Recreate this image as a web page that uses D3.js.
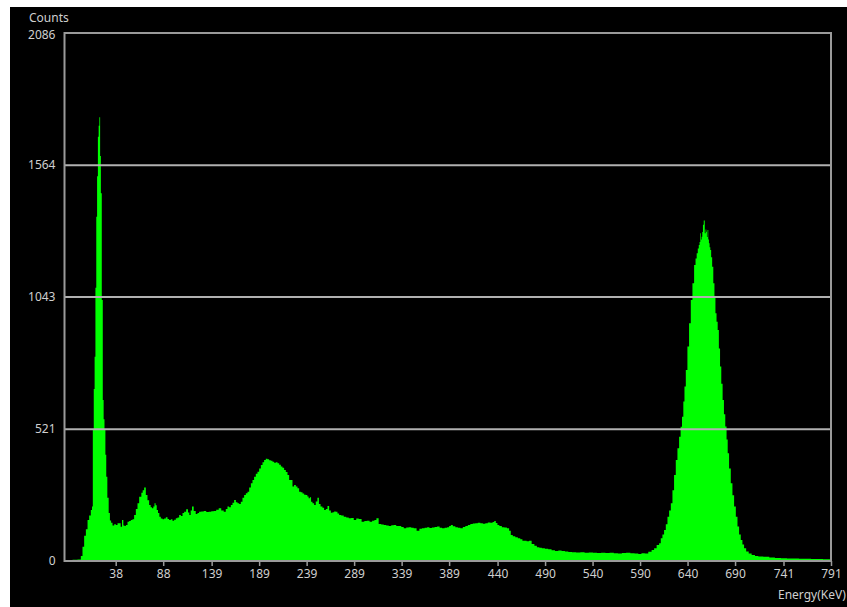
<!DOCTYPE html>
<html>
<head>
<meta charset="utf-8">
<script src="https://cdn.jsdelivr.net/npm/d3@7"></script>
<style>
  body { margin: 0; background: #fff; }
  svg text { font-family: "Noto Sans", sans-serif; font-size: 12px; fill: #cfcfcf; }
</style>
</head>
<body>
<div id="chart"></div>
<script>
// tick labels as printed on the instrument screen
const xLabels = [38, 88, 139, 189, 239, 289, 339, 389, 440, 490, 540, 590, 640, 690, 741, 791]
const yLabels = [0, 521, 1043, 1564, 2086]

// spectrum: energy (keV) / counts
const energy = [-15.4, -10.1, -4.8, 0.4, 2.2, 3.9, 5.7, 7.5, 9.2, 10.9, 12.7, 13.4, 14.4, 15.4, 16.2, 17.1, 18.0, 18.8, 19.7, 20.4,
  21.2, 22.0, 22.8, 23.9, 24.9, 25.7, 26.7, 27.6, 28.5, 29.9, 31.3, 32.5, 33.8, 35.5, 37.3, 39.1, 40.7, 42.5,
  43.9, 45.4, 46.7, 47.8, 49.6, 51.3, 53.0, 54.8, 56.5, 58.3, 60.1, 61.8, 63.6, 64.3, 65.7, 67.1, 68.8, 70.6, 72.3, 74.1,
  75.5, 76.9, 78.3, 79.4, 80.6, 81.8, 83.3, 84.6, 86.4, 88.1, 89.9, 91.7, 93.4, 95.1, 96.9, 98.6, 100.4, 102.2, 103.9, 105.7,
  107.5, 109.2, 110.9, 113.4, 114.8, 116.2, 117.6, 119.0, 121.2, 123.3, 124.9, 126.7, 129.4, 132.0, 134.6, 137.3, 139.9, 142.5, 145.1, 147.8,
  150.4, 153.0, 154.8, 156.5, 158.3, 160.1, 161.8, 163.6, 165.4, 167.1, 168.8, 170.6, 172.3, 174.1, 175.9, 177.6, 179.4, 181.2, 182.8, 184.6,
  186.4, 188.1, 189.9, 191.7, 193.4, 195.1, 196.9, 198.6, 200.4, 202.2, 203.9, 205.7, 207.5, 209.2, 211.0, 212.7, 214.4, 216.2, 218.0, 219.7,
  221.5, 223.3, 224.9, 226.7, 228.5, 230.2, 232.0, 233.8, 235.5, 237.3, 239.1, 240.4, 241.8, 243.0, 244.3, 246.0, 247.8, 249.4, 251.3, 252.5,
  254.8, 256.5, 258.3, 260.1, 261.8, 263.6, 265.4, 267.1, 268.8, 270.6, 272.3, 274.1, 276.7, 279.4, 282.0, 284.6, 287.3, 289.9, 292.5, 295.1,
  298.6, 300.9, 303.8, 306.7, 309.2, 311.5, 313.4, 316.2, 318.8, 321.5, 324.1, 326.7, 329.4, 332.0, 334.6, 337.3, 339.9, 342.5, 345.2, 347.8,
  350.4, 353.0, 356.5, 358.9, 361.8, 364.6, 367.1, 369.4, 372.3, 375.1, 377.6, 380.4, 382.8, 385.7, 388.1, 389.9, 391.7, 394.1, 397.0, 399.4,
  402.2, 404.6, 407.5, 409.9, 412.7, 415.1, 418.0, 420.4, 423.3, 425.7, 428.5, 430.9, 433.8, 435.7, 437.3, 439.0, 440.7, 443.0, 446.0, 448.3,
  451.3, 453.0, 454.8, 457.2, 460.1, 462.5, 465.3, 467.0, 468.8, 472.3, 474.1, 477.6, 479.9, 482.8, 485.1, 488.1, 491.5, 495.1, 498.6, 502.2,
  505.7, 509.1, 512.7, 516.2, 520.4, 524.9, 529.4, 533.8, 538.3, 542.5, 546.7, 551.3, 555.7, 560.1, 564.6, 568.8, 573.0, 577.6, 582.0, 586.4,
  589.9, 593.0, 596.9, 600.4, 603.9, 605.7, 609.2, 610.9, 612.7, 614.4, 616.2, 618.0, 619.7, 621.5, 623.3, 624.9, 626.7, 628.5, 630.2, 632.0,
  633.4, 634.9, 636.2, 637.3, 639.0, 640.7, 642.5, 644.3, 646.0, 647.8, 649.0, 650.2, 651.3, 652.3, 653.0, 653.8, 654.4, 655.1, 655.9, 656.5,
  657.6, 658.6, 659.3, 660.1, 660.7, 661.4, 662.2, 662.8, 663.6, 664.3, 665.4, 666.4, 667.8, 668.8, 669.9, 671.1, 672.3, 673.6, 674.8, 676.2,
  677.6, 679.0, 680.4, 681.7, 682.8, 684.6, 686.4, 688.1, 689.9, 691.7, 693.4, 695.1, 696.9, 698.6, 700.4, 703.0, 705.7, 709.2, 712.7, 716.2,
  723.2, 728.8, 735.1, 741.5, 747.8, 754.1, 760.4, 766.7, 773.1, 779.4, 785.7, 791.0]
const counts = [4, 4, 5, 6, 20, 56, 100, 125, 162, 180, 201, 215, 521, 680, 807, 1080, 1360, 1520, 1676, 1720,
  1753, 1600, 1453, 1031, 636, 560, 521, 420, 333, 250, 190, 160, 151, 140, 145, 142, 149, 149,
  135, 162, 140, 138, 142, 155, 158, 162, 165, 182, 205, 228, 254, 254, 270, 280, 290, 261, 240, 221,
  212, 208, 215, 228, 220, 201, 190, 175, 168, 165, 168, 173, 166, 162, 165, 159, 163, 169, 172, 182,
  178, 190, 195, 204, 192, 182, 200, 215, 198, 186, 190, 195, 196, 198, 194, 195, 197, 198, 202, 208,
  200, 195, 205, 215, 212, 221, 230, 241, 232, 228, 225, 234, 250, 261, 268, 274, 290, 307, 320, 333,
  345, 353, 365, 379, 390, 399, 404, 402, 398, 396, 392, 388, 390, 386, 380, 373, 368, 360, 352, 340,
  320, 320, 294, 300, 294, 287, 274, 272, 267, 262, 261, 255, 248, 252, 234, 228, 221, 235, 250, 225,
  215, 210, 201, 205, 217, 200, 191, 193, 196, 195, 188, 182, 180, 175, 172, 169, 170, 162, 168, 166,
  155, 158, 159, 155, 159, 162, 169, 146, 144, 142, 140, 138, 141, 142, 138, 138, 134, 129, 132, 133,
  131, 129, 120, 127, 129, 131, 133, 130, 132, 134, 136, 131, 129, 131, 133, 138, 142, 137, 133, 131,
  129, 134, 138, 142, 146, 148, 149, 151, 149, 147, 149, 152, 151, 154, 158, 150, 142, 138, 133, 132,
  129, 120, 103, 98, 94, 90, 86, 80, 80, 78, 80, 67, 60, 54, 52, 50, 48, 46, 42, 40,
  41, 40, 38, 36, 35, 34, 35, 33, 34, 33, 32, 33, 32, 33, 31, 30, 32, 33, 31, 30,
  28, 31, 30, 37, 43, 50, 63, 70, 90, 105, 122, 145, 175, 200, 228, 280, 340, 399, 445, 491,
  530, 570, 630, 689, 755, 847, 939, 1031, 1097, 1169, 1195, 1216, 1235, 1248, 1260, 1295, 1270, 1281, 1300, 1328,
  1345, 1295, 1310, 1301, 1280, 1308, 1270, 1255, 1240, 1229, 1200, 1163, 1097, 1040, 979, 945, 913, 840, 768, 700,
  636, 580, 531, 480, 426, 365, 307, 260, 215, 175, 136, 105, 83, 65, 50, 38, 30, 24, 20, 18,
  17, 14, 12, 11, 10, 10, 9, 9, 8, 8, 7, 7]

const data = energy.map((e, i) => ({ e: e, c: counts[i] }))

const W = 847, H = 607
const plot = { left: 64.5, right: 831, top: 33, bottom: 561 }

const svg = d3.select("#chart").append("svg")
    .attr("width", W)
    .attr("height", H)

// screen background (white edge at top/left like the capture)
svg.append("rect")
    .attr("x", 10).attr("y", 7)
    .attr("width", W - 10).attr("height", H - 7)
    .attr("fill", "#000")

const x = d3.scaleLinear().domain([-15.9, 791]).range([plot.left, plot.right])
const y = d3.scaleLinear().domain([0, 2086]).range([plot.bottom, plot.top])

svg.append("clipPath").attr("id", "clip")
  .append("rect")
    .attr("x", plot.left).attr("y", plot.top)
    .attr("width", plot.right - plot.left).attr("height", plot.bottom - plot.top)

// spectrum, drawn as histogram steps
const area = d3.area()
    .x(d => x(d.e))
    .y0(y(0))
    .y1(d => y(d.c))
    .curve(d3.curveStep)

svg.append("path")
    .datum(data)
    .attr("clip-path", "url(#clip)")
    .attr("fill", "#00ff00")
    .attr("d", area)

// horizontal grid
svg.append("g")
  .selectAll("line")
  .data(yLabels.slice(1, -1))
  .join("line")
    .attr("x1", plot.left).attr("x2", plot.right)
    .attr("y1", d => y(d)).attr("y2", d => y(d))
    .attr("stroke", "#b0b0b0")
    .attr("stroke-width", 2)

// frame
svg.append("rect")
    .attr("x", plot.left).attr("y", plot.top)
    .attr("width", plot.right - plot.left).attr("height", plot.bottom - plot.top)
    .attr("fill", "none")
    .attr("stroke", "#9a9a9a")
    .attr("stroke-width", 2)

// axes
const xAxis = svg.append("g")
    .attr("transform", "translate(0," + plot.bottom + ")")
    .call(d3.axisBottom(x).tickValues(xLabels).tickFormat(d3.format("d")).tickSize(5).tickPadding(3))
xAxis.select(".domain").remove()
xAxis.selectAll("line").attr("stroke", "#9a9a9a").attr("stroke-width", 1.5)
xAxis.selectAll("text").attr("fill", "#cfcfcf").style("font-size", "12px").style("font-family", "Noto Sans, sans-serif")

const yAxis = svg.append("g")
    .attr("transform", "translate(" + plot.left + ",0)")
    .call(d3.axisLeft(y).tickValues(yLabels).tickFormat(d3.format("d")).tickSize(0).tickPadding(9))
yAxis.select(".domain").remove()
yAxis.selectAll("text").attr("fill", "#cfcfcf").style("font-size", "12px").style("font-family", "Noto Sans, sans-serif")
// top label sits a little lower, under the "Counts" title
yAxis.selectAll(".tick").filter(d => d === 2086).select("text").attr("y", 2)

// axis titles
svg.append("text").attr("x", 29).attr("y", 22).text("Counts")
svg.append("text").attr("x", 778).attr("y", 599).text("Energy(KeV)")
</script>
</body>
</html>
